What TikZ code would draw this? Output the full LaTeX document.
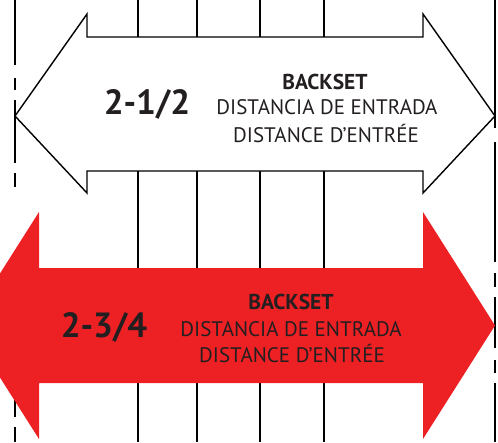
\documentclass[tikz,border=0pt]{standalone}
\usepackage{fontspec}
\setmainfont{PT Sans}
\definecolor{backred}{RGB}{237,32,36}
\definecolor{inkgray}{RGB}{35,31,32}
\tikzset{txt/.style={text=inkgray, inner sep=0pt, font=\fontsize{21}{21}\selectfont},
	headtxt/.style={txt, font=\fontsize{21.5}{21.5}\selectfont\bfseries},
	bigtxt/.style={text=inkgray, inner sep=0pt, font=\fontsize{35}{35}\selectfont\bfseries}}

\begin{document}
\begin{tikzpicture}[x={(1pt,0pt)}, y={(0pt,-1pt)}, line width=1.4pt]
			\useasboundingbox (0,0) rectangle (498,442);
			\clip (0,0) rectangle (498,442);
			% rules
			\foreach \x in {138, 197, 260, 324}
				\draw (\x, 0) -- (\x, 442);
			
			\draw (15, 0) -- (15, 65);
			\draw (15, 78) -- (15, 90);
			\draw (15, 100) -- (15, 163);
			\draw (15, 173) -- (15, 187);
			\draw (15, 400) -- (15, 417);
			\draw (15, 427) -- (15, 442);
			
			\draw (495, 0) -- (495, 128);
			\draw (495, 142) -- (495, 262);
			\draw (495, 273) -- (495, 287);
			\draw (495, 297) -- (495, 348);
			\draw (495, 360) -- (495, 373);
			\draw (495, 383) -- (495, 442);
			
			% arrows
			\filldraw[fill=white, line join=miter] (15, 116) -- (87, 14) -- (87, 37) -- (423, 37) -- (423, 14)
				-- (495, 116) -- (423, 193) -- (423, 171) -- (87, 171) -- (87, 193) -- cycle;
			\fill[backred] (-33, 325.5) -- (39, 212) -- (39, 268) -- (423, 268) -- (423, 212)
				-- (495, 325.5) -- (423, 439) -- (423, 383) -- (39, 383) -- (39, 439) -- cycle;
			
			\node [bigtxt] (A) at (147, 104) {2-1/2};
			\node [headtxt] (B) at (325, 81.5) {BACKSET};
			\node [txt] (C) at (327, 107.5) {DISTANCIA DE ENTRADA};
			\node [txt, anchor=base] (D) at (326, 142) {DISTANCE D’ENTRÉE};
			
			\node [bigtxt] (E) at (104, 327) {2-3/4};
			\node [headtxt] (F) at (291, 302) {BACKSET};
			\node [txt] (G) at (291, 329.5) {DISTANCIA DE ENTRADA};
			\node [txt, anchor=base] (H) at (292, 362) {DISTANCE D’ENTRÉE};
		\end{tikzpicture}
\end{document}
